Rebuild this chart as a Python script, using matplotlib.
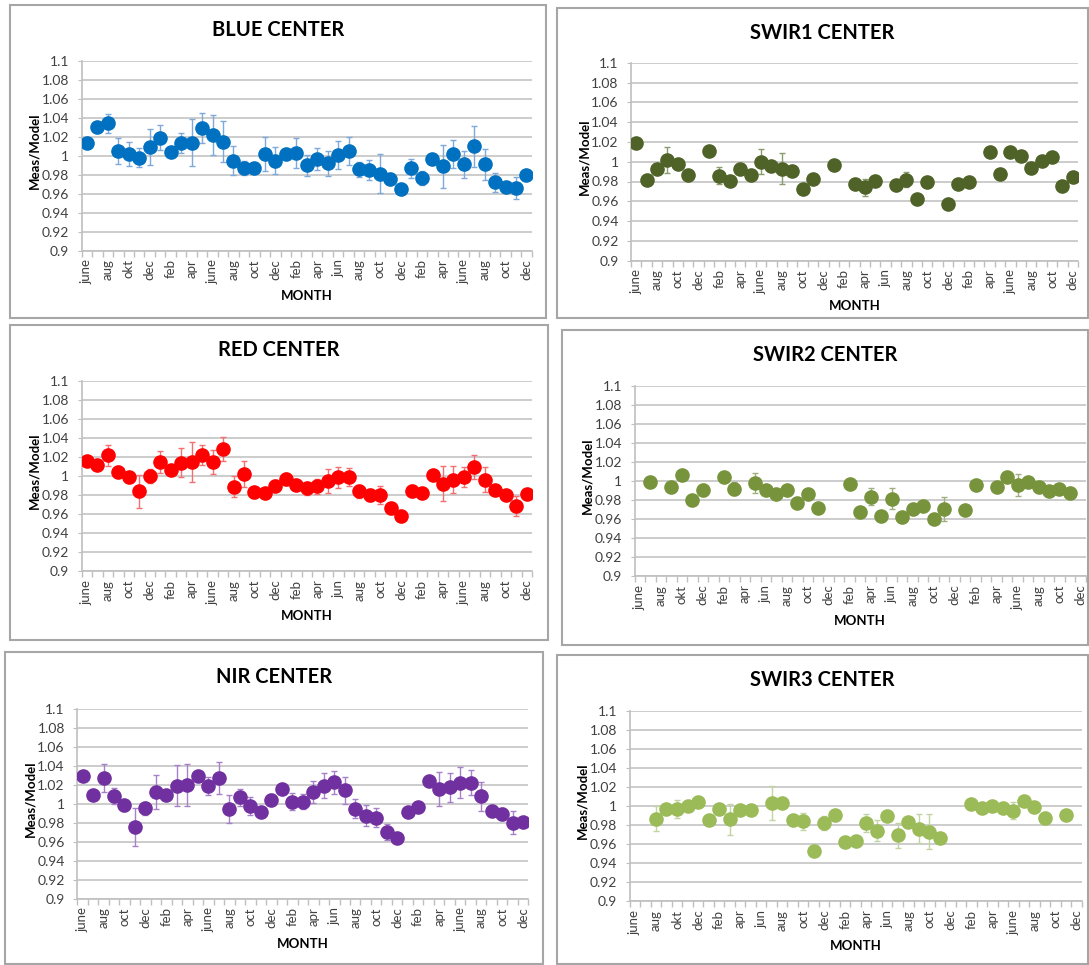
import numpy as np
import matplotlib.pyplot as plt
from matplotlib.patches import Rectangle
from matplotlib.ticker import FuncFormatter

plt.rcParams['font.family'] = ['Lato', 'DejaVu Sans']

nan = np.nan
W, H = 1089, 965

# month labels, shown on every other category (June of year 1 .. Dec of year 4)
LABELS_OKT = ['june', 'aug', 'okt', 'dec', 'feb', 'apr', 'june', 'aug', 'oct', 'dec', 'feb',
              'apr', 'jun', 'aug', 'oct', 'dec', 'feb', 'apr', 'june', 'aug', 'oct', 'dec']
LABELS_OCT = ['june', 'aug', 'oct', 'dec', 'feb', 'apr', 'june', 'aug', 'oct', 'dec', 'feb',
              'apr', 'jun', 'aug', 'oct', 'dec', 'feb', 'apr', 'june', 'aug', 'oct', 'dec']
LABELS_JUN = ['june', 'aug', 'okt', 'dec', 'feb', 'apr', 'jun', 'aug', 'oct', 'dec', 'feb',
              'apr', 'jun', 'aug', 'oct', 'dec', 'feb', 'apr', 'june', 'aug', 'oct', 'dec']

BLUE_VAL = [1.014, 1.030, 1.034, 1.005, 1.002, 0.998, 1.009, 1.019, 1.004, 1.014, 1.014,
            1.029, 1.022, 1.015, 0.995, 0.987, 0.987, 1.002, 0.995, 1.002, 1.003, 0.990,
            0.997, 0.992, 1.001, 1.005, 0.986, 0.985, 0.981, 0.976, 0.965, 0.987, 0.977,
            0.997, 0.989, 1.002, 0.991, 1.010, 0.991, 0.972, 0.967, 0.966, 0.980]
BLUE_ERR = [0, 0, 0.010, 0.0135, 0.013, 0.0098, 0.019, 0.013, 0.003, 0.0105, 0.0245,
            0.016, 0.0207, 0.0215, 0.015, 0.0073, 0.004, 0.018, 0.014, 0, 0.0156, 0.0107,
            0.0117, 0.0133, 0.0143, 0.015, 0.008, 0.0105, 0.0205, 0.0056, 0, 0.0098, 0.0075,
            0, 0.0228, 0.015, 0.0139, 0.0212, 0.0162, 0.0097, 0, 0.0115, 0]

SWIR1_VAL = [1.019, 0.982, 0.993, 1.002, 0.998, 0.987, nan, 1.011, 0.986, 0.9805, 0.993,
             0.987, 1.000, 0.996, 0.993, 0.991, 0.972, 0.983, nan, 0.997, nan, 0.977,
             0.974, 0.9805, nan, 0.976, 0.982, 0.962, 0.980, nan, 0.957, 0.977, 0.980,
             nan, 1.010, 0.9875, 1.010, 1.006, 0.994, 1.001, 1.005, 0.975, 0.985]
SWIR1_ERR = [0, 0, 0, 0.013, 0, 0, 0, 0, 0.0085, 0, 0,
             0, 0.0125, 0, 0.0157, 0, 0, 0, 0, 0, 0, 0,
             0.0085, 0, 0, 0, 0.0075, 0, 0, 0, 0, 0, 0,
             0, 0, 0, 0, 0, 0, 0, 0, 0, 0]

RED_VAL = [1.016, 1.012, 1.022, 1.0045, 0.999, 0.984, 1.000, 1.0147, 1.006, 1.014, 1.0147,
           1.022, 1.015, 1.028, 0.9885, 1.0024, 0.983, 0.9825, 0.990, 0.997, 0.9906, 0.987,
           0.989, 0.995, 0.9986, 0.999, 0.984, 0.980, 0.980, 0.966, 0.9584, 0.984, 0.982,
           1.0014, 0.992, 0.996, 0.999, 1.009, 0.996, 0.985, 0.980, 0.9685, 0.981]
RED_ERR = [0, 0, 0.011, 0.0056, 0.005, 0.0173, 0.0077, 0.0115, 0, 0.0149, 0.0212,
           0.0107, 0.0125, 0.0126, 0.011, 0.0137, 0.0058, 0, 0.0062, 0.0063, 0.005, 0.0066,
           0.0077, 0.0126, 0.011, 0.0096, 0.0066, 0.0063, 0.009, 0.006, 0, 0.0063, 0,
           0, 0.0184, 0.014, 0.0101, 0.0126, 0.013, 0, 0, 0.0105, 0]

SWIR2_VAL = [nan, 0.9986, nan, 0.994, 1.0066, 0.980, 0.9906, nan, 1.0045, 0.992, nan,
             0.9976, 0.9906, 0.9864, 0.9906, 0.9773, 0.9867, 0.9713, nan, nan, 0.9969, 0.9675,
             0.9836, 0.9629, 0.9815, 0.9622, 0.9706, 0.9738, 0.9601, 0.9706, nan, 0.9699, 0.9955,
             nan, 0.9934, 1.0038, 0.9958, 0.9993, 0.9941, 0.9895, 0.992, 0.9878, nan]
SWIR2_ERR = [0, 0, 0, 0, 0, 0, 0.006, 0, 0, 0.0066, 0,
             0.0107, 0, 0, 0.0055, 0.0044, 0, 0, 0, 0, 0, 0.005,
             0.009, 0, 0.011, 0, 0, 0, 0, 0.0128, 0, 0, 0,
             0, 0, 0, 0.012, 0, 0, 0, 0, 0, 0]

NIR_VAL = [1.029, 1.0098, 1.0277, 1.0084, 0.9986, 0.9758, 0.9954, 1.0126, 1.0095, 1.0193, 1.020,
           1.0295, 1.019, 1.027, 0.9944, 1.007, 0.9979, 0.9912, 1.0046, 1.0161, 1.0025, 1.0025,
           1.013, 1.0193, 1.0228, 1.0144, 0.9951, 0.9877, 0.9856, 0.9702, 0.9639, 0.9916, 0.9972,
           1.0242, 1.0158, 1.0175, 1.0225, 1.0225, 1.0081, 0.9926, 0.9898, 0.9804, 0.9811]
NIR_ERR = [0, 0, 0.0149, 0.0082, 0.0056, 0.02, 0.0067, 0.018, 0, 0.0216, 0.0225,
           0.0054, 0.0096, 0.0167, 0.0147, 0.0093, 0.009, 0, 0.0056, 0, 0.0086, 0.0077,
           0.0116, 0.0132, 0.0123, 0.0139, 0.0102, 0.0112, 0.0098, 0.0086, 0, 0.0053, 0.0053,
           0, 0.0175, 0.0151, 0.0165, 0.0128, 0.0153, 0, 0.0063, 0.0119, 0]

SWIR3_VAL = [nan, nan, 0.9867, 0.9972, 0.9969, 0.9997, 1.0042, 0.9853, 0.9972, 0.986, 0.9955,
             0.9962, nan, 1.0028, 1.0035, 0.9853, 0.9839, 0.9531, 0.9818, 0.9906, 0.9622, 0.9633,
             0.9825, 0.9741, 0.9892, 0.9692, 0.9836, 0.9759, 0.9731, 0.9668, nan, nan, 1.0024,
             0.9976, 1.000, 0.9976, 0.9951, 1.0052, 0.9993, 0.9874, nan, 0.9902, nan]
SWIR3_ERR = [0, 0, 0.0133, 0, 0.0096, 0, 0.0049, 0, 0, 0.016, 0,
             0, 0, 0.018, 0, 0.0056, 0.009, 0, 0.0075, 0, 0, 0,
             0.0094, 0.011, 0.0044, 0.0133, 0, 0.0152, 0.018, 0, 0, 0, 0,
             0, 0, 0, 0.009, 0, 0, 0, 0, 0, 0]


def fx(px):
    return px / W


def fy(py):
    return 1 - py / H


def draw_panel(box, area, title, labels, vals, errs, color, ecolor):
    bx0, by0, bx1, by1 = box
    fig.add_artist(Rectangle((fx(bx0), fy(by1)), (bx1 - bx0) / W, (by1 - by0) / H,
                             transform=fig.transFigure, fill=False, ec='#A6A6A6', lw=1.5))
    fig.text(fx((bx0 + bx1) / 2), fy(by0 + 25), title, ha='center', va='center',
             fontsize=14.5, fontweight='bold', color='black')

    x0, y0, x1, y1 = area
    ax = fig.add_axes([fx(x0), fy(y1), (x1 - x0) / W, (y1 - y0) / H])
    x = np.arange(len(vals))
    vals = np.array(vals, dtype=float)
    errs = np.array(errs, dtype=float)
    m = errs > 0
    ax.errorbar(x[m], vals[m], yerr=errs[m], fmt='none', ecolor=ecolor,
                elinewidth=1, capsize=2.5, capthick=1, zorder=2)
    ax.plot(x, vals, 'o', ms=9.5, color=color, mec=color, zorder=3)

    ax.set_xlim(-0.5, len(vals) - 0.5)
    ax.set_ylim(0.9, 1.1)
    ax.set_yticks(np.round(np.arange(0.9, 1.1001, 0.02), 2))
    ax.yaxis.set_major_formatter(FuncFormatter(lambda v, _: f'{round(v, 2):g}'))
    ax.set_xticks(x[::2])
    ax.set_xticklabels(labels, rotation=90)
    ax.set_xticks(np.arange(-0.5, len(vals)), minor=True)
    ax.tick_params(axis='x', which='major', length=0, pad=6, labelsize=9.5, labelcolor='#404040')
    ax.tick_params(axis='x', which='minor', length=4.5, color='#BFBFBF', width=1)
    ax.tick_params(axis='y', length=3, color='#BFBFBF', pad=6, labelsize=10, labelcolor='#404040')
    ax.yaxis.grid(True, color='#C8C8C8', lw=1.3)
    ax.set_axisbelow(True)
    for s in ['top', 'right']:
        ax.spines[s].set_visible(False)
    for s in ['left', 'bottom']:
        ax.spines[s].set_color('#BFBFBF')
        ax.spines[s].set_linewidth(1.2)

    fig.text(fx(x0 - 47), fy((y0 + y1) / 2 - 5), 'Meas/Model', rotation=90, ha='center',
             va='center', fontsize=9.5, fontweight='bold')
    fig.text(fx((x0 + x1) / 2), fy(y1 + 45), 'MONTH', ha='center', va='center',
             fontsize=9.5, fontweight='bold')
    return ax


fig = plt.figure(figsize=(W / 100, H / 100), dpi=100)

draw_panel((10, 5, 546, 318), (81.7, 60.7, 531.7, 251), 'BLUE CENTER',
           LABELS_OKT, BLUE_VAL, BLUE_ERR, '#0070C0', '#7FA9DA')
draw_panel((557, 8, 1088, 318), (631, 62.7, 1078, 260.7), 'SWIR1 CENTER',
           LABELS_OCT, SWIR1_VAL, SWIR1_ERR, '#4F6228', '#8C9A70')
draw_panel((10, 325, 548, 640), (81.7, 380.7, 532, 571.3), 'RED CENTER',
           LABELS_OCT, RED_VAL, RED_ERR, '#FF0000', '#F47070')
draw_panel((562, 330, 1088, 645), (634.7, 385.7, 1085.7, 576.3), 'SWIR2 CENTER',
           LABELS_JUN, SWIR2_VAL, SWIR2_ERR, '#77933C', '#9EAF80')
draw_panel((5, 652, 543, 964), (77.3, 709, 528.3, 899), 'NIR CENTER',
           LABELS_OCT, NIR_VAL, NIR_ERR, '#7030A0', '#A880C8')
draw_panel((557, 655, 1088, 964), (629.7, 710.7, 1081.7, 901.3), 'SWIR3 CENTER',
           LABELS_JUN, SWIR3_VAL, SWIR3_ERR, '#9BBB59', '#C2D5A0')

fig.savefig('out.png', dpi=100)
